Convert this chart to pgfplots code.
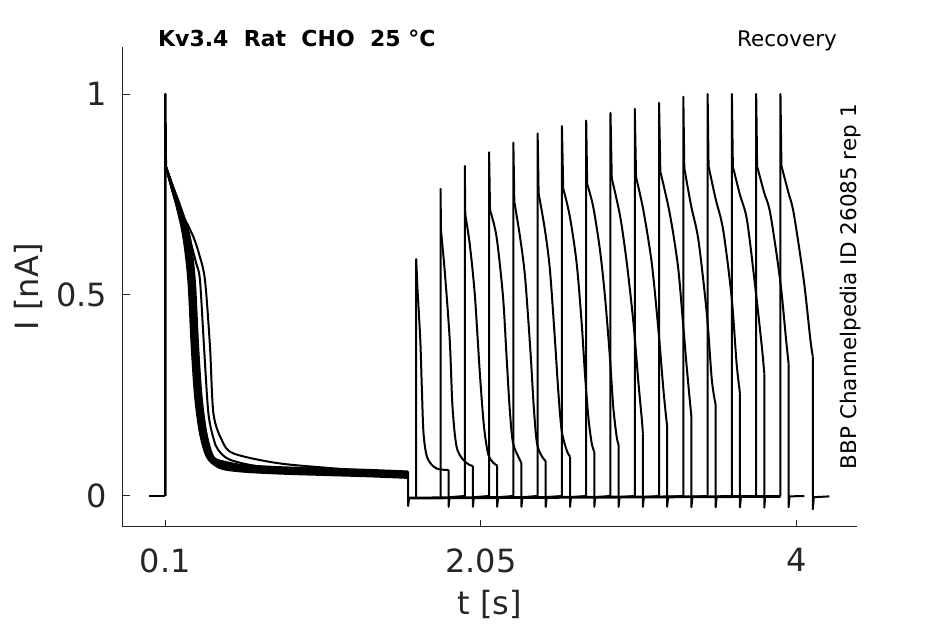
\documentclass[border=0pt]{standalone}
\usepackage{fontspec}
\setmainfont{DejaVu Sans}
\usepackage{pgfplots}
\pgfplotsset{compat=1.18}
\definecolor{axgray}{HTML}{262626}
\begin{document}
\begin{tikzpicture}
\path[use as bounding box] (0,0) rectangle (945pt,624pt);
\begin{axis}[
  at={(122.7pt,97.3pt)}, anchor=south west,
  scale only axis, width=734pt, height=480pt,
  xmin=-0.1633, xmax=4.371, ymin=-0.0764, ymax=1.1177,
  axis x line*=bottom, axis y line*=left,
  axis line style={axgray, line width=1pt},
  xtick={0.1,2.05,4}, xticklabels={0.1,2.05,4},
  ytick={0,0.5,1}, yticklabels={0,0.5,1},
  tick align=inside, major tick length=7pt,
  tick style={axgray, line width=1pt},
  ticklabel style={font=\fontsize{32}{38}\selectfont, text=axgray},
  xticklabel style={inner sep=0pt, anchor=north, yshift=-21.5pt},
  yticklabel style={inner sep=0pt, anchor=east, xshift=-15.5pt},
  xlabel={t [s]}, ylabel={I [nA]},
  label style={font=\fontsize{32}{38}\selectfont, text=axgray},
  xlabel style={at={(axis description cs:0.5,-0.1835)}, anchor=base},
  ylabel style={at={(axis description cs:-0.1152,0.5)}, anchor=base},
  clip=false,
  tr/.style={black, line width=2pt, line join=round},
  sm/.style={black, line width=2pt, line join=round, smooth},
]
% ---------- first (conditioning) pulse ----------
\addplot[black, line width=2.8pt] coordinates {(0,0)(0.1,0)};
\addplot[black, line width=2.6pt, line join=round] coordinates {(0.1,0)(0.1,1.0)(0.1015,0.86)(0.103,0.82)};
\addplot[sm] coordinates {(0.103,0.82)(0.14,0.765)(0.17,0.72)(0.211,0.645)(0.242,0.537)(0.263,0.371)(0.284,0.247)(0.314,0.156)(0.356,0.098)(0.418,0.075)(0.56,0.066)(0.79,0.061)(1.1,0.057)(1.35,0.054)(1.6,0.050)};
\addplot[sm] coordinates {(0.103,0.82)(0.141,0.765)(0.172,0.72)(0.215,0.645)(0.246,0.537)(0.267,0.371)(0.288,0.247)(0.318,0.156)(0.36,0.098)(0.422,0.079)(0.562,0.070)(0.79,0.065)(1.1,0.061)(1.35,0.058)(1.6,0.054)};
\addplot[sm] coordinates {(0.103,0.82)(0.142,0.765)(0.175,0.72)(0.219,0.645)(0.25,0.537)(0.271,0.371)(0.292,0.247)(0.322,0.156)(0.364,0.098)(0.426,0.072)(0.564,0.063)(0.79,0.058)(1.1,0.054)(1.35,0.051)(1.6,0.047)};
\addplot[sm] coordinates {(0.103,0.82)(0.144,0.765)(0.177,0.72)(0.223,0.645)(0.254,0.537)(0.275,0.371)(0.296,0.247)(0.326,0.156)(0.368,0.098)(0.43,0.082)(0.566,0.073)(0.79,0.068)(1.1,0.064)(1.35,0.061)(1.6,0.057)};
\addplot[sm] coordinates {(0.103,0.82)(0.145,0.765)(0.18,0.72)(0.227,0.645)(0.258,0.537)(0.279,0.371)(0.3,0.247)(0.33,0.156)(0.372,0.098)(0.434,0.070)(0.568,0.061)(0.79,0.056)(1.1,0.052)(1.35,0.049)(1.6,0.045)};
\addplot[sm] coordinates {(0.103,0.82)(0.146,0.765)(0.182,0.72)(0.231,0.645)(0.262,0.537)(0.283,0.371)(0.304,0.247)(0.334,0.156)(0.376,0.098)(0.438,0.077)(0.57,0.068)(0.79,0.063)(1.1,0.059)(1.35,0.056)(1.6,0.052)};
\addplot[sm] coordinates {(0.103,0.82)(0.148,0.765)(0.185,0.72)(0.236,0.645)(0.267,0.537)(0.288,0.371)(0.309,0.247)(0.339,0.156)(0.381,0.098)(0.443,0.084)(0.573,0.075)(0.79,0.070)(1.1,0.066)(1.35,0.063)(1.6,0.059)};
\addplot[sm] coordinates {(0.103,0.82)(0.149,0.765)(0.188,0.72)(0.241,0.645)(0.272,0.537)(0.293,0.371)(0.314,0.247)(0.344,0.156)(0.386,0.098)(0.448,0.073)(0.575,0.064)(0.79,0.059)(1.1,0.055)(1.35,0.052)(1.6,0.048)};
\addplot[sm] coordinates {(0.103,0.82)(0.151,0.765)(0.191,0.72)(0.246,0.645)(0.277,0.537)(0.298,0.371)(0.319,0.247)(0.349,0.156)(0.391,0.098)(0.453,0.080)(0.578,0.071)(0.79,0.066)(1.1,0.062)(1.35,0.059)(1.6,0.055)};
\addplot[sm] coordinates {(0.103,0.82)(0.152,0.765)(0.194,0.72)(0.251,0.645)(0.282,0.537)(0.303,0.371)(0.324,0.247)(0.354,0.156)(0.396,0.098)(0.458,0.086)(0.58,0.077)(0.79,0.072)(1.1,0.068)(1.35,0.065)(1.6,0.061)};
\addplot[sm] coordinates {(0.103,0.82)(0.14,0.765)(0.17,0.725)(0.222,0.68)(0.253,0.637)(0.29,0.58)(0.314,0.537)(0.339,0.371)(0.366,0.206)(0.40,0.14)(0.428,0.114)(0.5,0.09)(0.7,0.072)(1.0,0.063)(1.3,0.057)(1.6,0.052)};
\addplot[sm] coordinates {(0.103,0.82)(0.14,0.765)(0.17,0.728)(0.225,0.685)(0.273,0.645)(0.31,0.6)(0.345,0.537)(0.376,0.371)(0.397,0.206)(0.449,0.139)(0.52,0.106)(0.789,0.082)(1.1,0.07)(1.35,0.062)(1.6,0.056)};
\addplot[tr] coordinates {(1.6,0.061)(1.6,-0.025)(1.606,-0.005)};
% ---------- baseline between pulses ----------
\addplot[black, line width=2.8pt] coordinates {(1.606,-0.005)(3.9,-0.001)};
% ---------- test pulses ----------
% k1
\addplot[tr] coordinates {(1.65,-0.004)(1.65,0.589)(1.658,0.512)};
\addplot[sm] coordinates {(1.658,0.512)(1.675,0.388)(1.685,0.264)(1.695,0.156)(1.716,0.098)(1.757,0.073)(1.798,0.066)(1.85,0.065)};
\addplot[tr] coordinates {(1.85,0.065)(1.85,-0.027)(1.856,-0.003)(1.95,0)};
% k2
\addplot[tr] coordinates {(1.8,-0.004)(1.8,0.764)(1.803,0.66)};
\addplot[sm] coordinates {(1.803,0.66)(1.827,0.555)(1.857,0.388)(1.874,0.222)(1.899,0.123)(1.94,0.09)(1.981,0.077)(2.0,0.075)};
\addplot[tr] coordinates {(2.0,0.075)(2.0,-0.027)(2.006,-0.003)(2.1,0)};
% k3
\addplot[tr] coordinates {(1.95,-0.004)(1.95,0.821)(1.953,0.70)};
\addplot[sm] coordinates {(1.953,0.70)(1.981,0.625)(2.012,0.50)(2.043,0.305)(2.068,0.175)(2.094,0.105)(2.125,0.083)(2.15,0.076)};
\addplot[tr] coordinates {(2.15,0.076)(2.15,-0.027)(2.156,-0.003)(2.25,0)};
% k4
\addplot[tr] coordinates {(2.1,-0.004)(2.1,0.855)(2.106,0.711)};
\addplot[sm] coordinates {(2.106,0.711)(2.146,0.645)(2.186,0.496)(2.208,0.347)(2.228,0.214)(2.248,0.132)(2.29,0.09)(2.3,0.083)};
\addplot[tr] coordinates {(2.3,0.083)(2.3,-0.027)(2.306,-0.003)(2.4,0)};
% k5
\addplot[tr] coordinates {(2.25,-0.004)(2.25,0.879)(2.256,0.732)};
\addplot[sm] coordinates {(2.256,0.732)(2.291,0.645)(2.322,0.546)(2.355,0.363)(2.376,0.222)(2.396,0.131)(2.427,0.098)(2.45,0.087)};
\addplot[tr] coordinates {(2.45,0.087)(2.45,-0.027)(2.456,-0.003)(2.55,0)};
% k6
\addplot[tr] coordinates {(2.4,-0.003)(2.4,0.902)(2.406,0.753)};
\addplot[sm] coordinates {(2.406,0.753)(2.445,0.662)(2.476,0.562)(2.507,0.388)(2.527,0.264)(2.548,0.164)(2.579,0.114)(2.6,0.098)};
\addplot[tr] coordinates {(2.6,0.098)(2.6,-0.027)(2.606,-0.003)(2.7,0)};
% k7
\addplot[tr] coordinates {(2.55,-0.003)(2.55,0.920)(2.558,0.765)};
\addplot[sm] coordinates {(2.558,0.765)(2.599,0.695)(2.641,0.579)(2.672,0.43)(2.692,0.305)(2.713,0.197)(2.734,0.131)(2.75,0.11)};
\addplot[tr] coordinates {(2.75,0.11)(2.75,-0.027)(2.756,-0.003)(2.85,0)};
% k8
\addplot[tr] coordinates {(2.7,-0.003)(2.7,0.934)(2.706,0.776)};
\addplot[sm] coordinates {(2.706,0.776)(2.743,0.72)(2.785,0.612)(2.816,0.496)(2.846,0.347)(2.867,0.222)(2.888,0.148)(2.9,0.127)};
\addplot[tr] coordinates {(2.9,0.127)(2.9,-0.027)(2.906,-0.003)(3.0,0)};
% k9
\addplot[tr] coordinates {(2.85,-0.002)(2.85,0.953)(2.858,0.79)};
\addplot[sm] coordinates {(2.858,0.79)(2.91,0.695)(2.951,0.579)(2.992,0.43)(3.023,0.28)(3.044,0.189)(3.05,0.155)};
\addplot[tr] coordinates {(3.05,0.155)(3.05,-0.027)(3.056,-0.003)(3.15,0)};
% k10
\addplot[tr] coordinates {(3.0,-0.002)(3.0,0.963)(3.008,0.793)};
\addplot[sm] coordinates {(3.008,0.793)(3.053,0.711)(3.105,0.579)(3.146,0.413)(3.177,0.264)(3.2,0.172)};
\addplot[tr] coordinates {(3.2,0.172)(3.2,-0.027)(3.206,-0.002)(3.3,0)};
% k11
\addplot[tr] coordinates {(3.15,-0.002)(3.15,0.978)(3.158,0.807)};
\addplot[sm] coordinates {(3.158,0.807)(3.216,0.703)(3.267,0.571)(3.298,0.43)(3.319,0.33)(3.336,0.255)(3.35,0.197)};
\addplot[tr] coordinates {(3.35,0.197)(3.35,-0.028)(3.356,-0.002)(3.45,0)};
% k12
\addplot[tr] coordinates {(3.3,-0.002)(3.3,0.993)(3.306,0.816)};
\addplot[sm] coordinates {(3.306,0.816)(3.349,0.72)(3.393,0.637)(3.445,0.454)(3.476,0.289)(3.5,0.226)};
\addplot[tr] coordinates {(3.5,0.226)(3.5,-0.028)(3.506,-0.002)(3.6,0)};
% k13
\addplot[tr] coordinates {(3.45,-0.001)(3.45,1.0)(3.456,0.82)};
\addplot[sm] coordinates {(3.456,0.82)(3.499,0.74)(3.546,0.662)(3.598,0.496)(3.629,0.33)(3.65,0.255)};
\addplot[tr] coordinates {(3.65,0.255)(3.65,-0.028)(3.656,-0.002)(3.75,0)};
% k14
\addplot[tr] coordinates {(3.6,-0.001)(3.6,1.0)(3.606,0.82)};
\addplot[sm] coordinates {(3.606,0.82)(3.649,0.75)(3.693,0.687)(3.744,0.521)(3.785,0.371)(3.8,0.305)};
\addplot[tr] coordinates {(3.8,0.305)(3.8,-0.029)(3.806,-0.002)(3.9,0)};
% k15
\addplot[tr] coordinates {(3.75,-0.001)(3.75,1.0)(3.756,0.82)};
\addplot[sm] coordinates {(3.756,0.82)(3.799,0.755)(3.837,0.703)(3.898,0.537)(3.935,0.388)(3.95,0.33)};
\addplot[tr] coordinates {(3.95,0.33)(3.95,-0.028)(3.956,-0.001)(4.048,0)};
% k16
\addplot[tr] coordinates {(3.9,-0.001)(3.9,1.0)(3.906,0.821)};
\addplot[sm] coordinates {(3.906,0.821)(3.949,0.755)(3.982,0.703)(4.044,0.537)(4.085,0.388)(4.1,0.347)};
\addplot[tr] coordinates {(4.1,0.347)(4.1,-0.033)(4.106,-0.003)(4.202,-0.001)};
% ---------- texts ----------
\node[inner sep=0pt, anchor=base west, font=\bfseries\fontsize{22}{26}\selectfont] at (axis description cs:0.048,1) {Kv3.4\ \ Rat\ \ CHO\ \ 25 °C};
\node[inner sep=0pt, anchor=base east, font=\fontsize{21.5}{26}\selectfont] at (axis description cs:0.9732,1) {Recovery};
\node[inner sep=0pt, anchor=base, rotate=90, font=\fontsize{21.5}{26}\selectfont] at (axis description cs:1,0.5) {BBP Channelpedia ID 26085 rep 1};
\end{axis}
\end{tikzpicture}
\end{document}
